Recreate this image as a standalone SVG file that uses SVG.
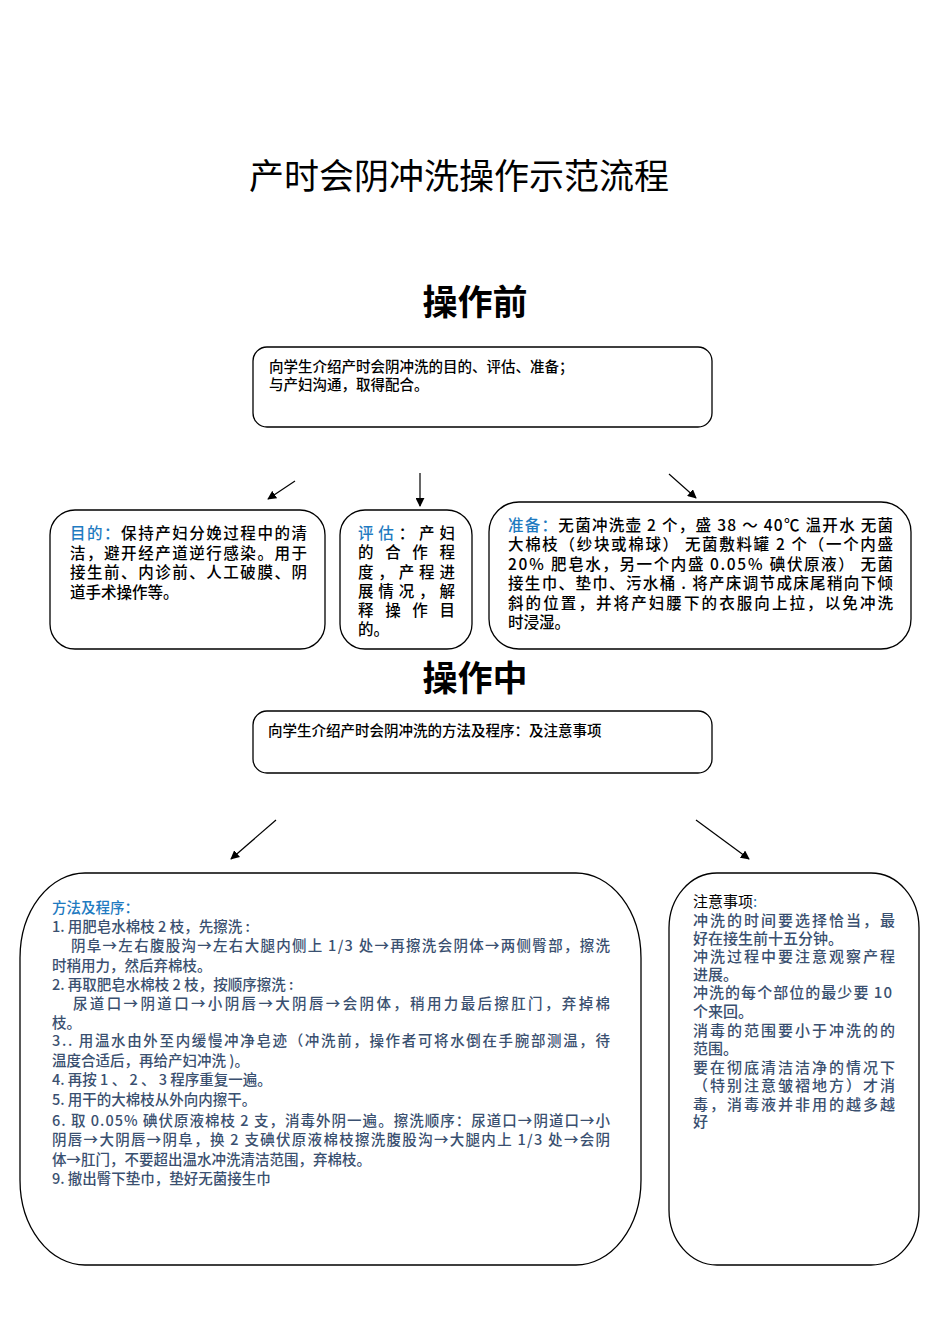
<svg xmlns="http://www.w3.org/2000/svg" width="950" height="1344" viewBox="0 0 950 1344">
<style>
.box{fill:#ffffff;stroke:#000000;stroke-width:1.3}
.t{font-family:"Noto Sans CJK SC","Liberation Sans",sans-serif;fill:#000000;font-weight:500}
.h{font-family:"Noto Sans CJK SC","Liberation Sans",sans-serif;fill:#000000;text-anchor:middle}
.s{font-size:14.5px}
.b{font-size:15.5px}
.m{font-size:14.5px;fill:#3a5070}
.n{font-size:15px;fill:#3a5070}
.blue{fill:#1f7bc1}
.conn{stroke:#000000;stroke-width:1.2;fill:none;marker-end:url(#ah)}
</style>
<defs>
<marker id="ah" viewBox="0 0 10 10" refX="9" refY="5" markerWidth="9" markerHeight="9" markerUnits="userSpaceOnUse" orient="auto">
<path d="M0,0 L10,5 L0,10 z" fill="#000000"/>
</marker>
</defs>
<rect width="950" height="1344" fill="#ffffff"/>

<g id="title">
<text class="h" x="459" y="189" font-size="35">产时会阴冲洗操作示范流程</text>
</g>
<g id="heading-before">
<text class="h" x="475" y="315" font-size="35" font-weight="bold">操作前</text>
</g>

<g id="node-intro">
<rect class="box" x="253" y="347" width="459" height="80" rx="14" ry="14"/>
<text class="t s" x="269" y="372">向学生介绍产时会阴冲洗的目的、评估、准备；</text>
<text class="t s" x="269" y="390">与产妇沟通，取得配合。</text>
</g>

<g id="node-purpose">
<rect class="box" x="50" y="510" width="275" height="139" rx="25" ry="25"/>
<text class="t b" x="70" y="539" textLength="237" lengthAdjust="spacing"><tspan class="blue">目的：</tspan>保持产妇分娩过程中的清</text>
<text class="t b" x="70" y="559" textLength="237" lengthAdjust="spacing">洁，避开经产道逆行感染。用于</text>
<text class="t b" x="70" y="578" textLength="237" lengthAdjust="spacing">接生前、内诊前、人工破膜、阴</text>
<text class="t b" x="70" y="598">道手术操作等。</text>
</g>

<g id="node-assess">
<rect class="box" x="340" y="510" width="132" height="139" rx="25" ry="25"/>
<text class="t b" x="358" y="539" textLength="97" lengthAdjust="spacing"><tspan class="blue">评估</tspan>：产妇</text>
<text class="t b" x="358" y="558" textLength="97" lengthAdjust="spacing">的合作程</text>
<text class="t b" x="358" y="578" textLength="97" lengthAdjust="spacing">度，产程进</text>
<text class="t b" x="358" y="597" textLength="97" lengthAdjust="spacing">展情况，解</text>
<text class="t b" x="358" y="616" textLength="97" lengthAdjust="spacing">释操作目</text>
<text class="t b" x="358" y="635">的。</text>
</g>

<g id="node-prepare">
<rect class="box" x="489" y="502" width="422" height="147" rx="30" ry="30"/>
<text class="t b" x="508" y="531" textLength="385" lengthAdjust="spacing"><tspan class="blue">准备：</tspan>无菌冲洗壶 2 个，盛 38 ～ 40℃ 温开水  无菌</text>
<text class="t b" x="508" y="550" textLength="385" lengthAdjust="spacing">大棉枝（纱块或棉球）  无菌敷料罐 2 个（一个内盛</text>
<text class="t b" x="508" y="570" textLength="385" lengthAdjust="spacing">20％ 肥皂水，另一个内盛 0.05％ 碘伏原液）  无菌</text>
<text class="t b" x="508" y="589" textLength="385" lengthAdjust="spacing">接生巾、垫巾、污水桶 . 将产床调节成床尾稍向下倾</text>
<text class="t b" x="508" y="609" textLength="385" lengthAdjust="spacing">斜的位置，并将产妇腰下的衣服向上拉，以免冲洗</text>
<text class="t b" x="508" y="628">时浸湿。</text>
</g>

<g id="heading-during">
<text class="h" x="475" y="691" font-size="35" font-weight="bold">操作中</text>
</g>

<g id="node-intro2">
<rect class="box" x="253" y="711" width="459" height="62" rx="14" ry="14"/>
<text class="t s" x="268" y="736">向学生介绍产时会阴冲洗的方法及程序：及注意事项</text>
</g>

<g id="node-method">
<rect class="box" x="20" y="873" width="621" height="392" rx="65" ry="85"/>
<text class="t m blue" x="52" y="913">方法及程序：</text>
<text class="t m" x="52" y="932">1. 用肥皂水棉枝 2 枝，先擦洗 :</text>
<text class="t m" x="71" y="951" textLength="539" lengthAdjust="spacing">阴阜→左右腹股沟→左右大腿内侧上 1/3 处→再擦洗会阴体→两侧臀部，擦洗</text>
<text class="t m" x="52" y="971">时稍用力，然后弃棉枝。</text>
<text class="t m" x="52" y="990">2. 再取肥皂水棉枝 2 枝，按顺序擦洗 :</text>
<text class="t m" x="73" y="1009" textLength="537" lengthAdjust="spacing">尿道口→阴道口→小阴唇→大阴唇→会阴体，稍用力最后擦肛门，弃掉棉</text>
<text class="t m" x="52" y="1028">枝。</text>
<text class="t m" x="52" y="1046" textLength="558" lengthAdjust="spacing">3.. 用温水由外至内缓慢冲净皂迹（冲洗前，操作者可将水倒在手腕部测温，待</text>
<text class="t m" x="52" y="1066">温度合适后，再给产妇冲洗 )。</text>
<text class="t m" x="52" y="1085">4. 再按 1 、 2 、 3 程序重复一遍。</text>
<text class="t m" x="52" y="1105">5. 用干的大棉枝从外向内擦干。</text>
<text class="t m" x="52" y="1126" textLength="558" lengthAdjust="spacing">6. 取 0.05% 碘伏原液棉枝 2 支，消毒外阴一遍。擦洗顺序：尿道口→阴道口→小</text>
<text class="t m" x="52" y="1145" textLength="558" lengthAdjust="spacing">阴唇→大阴唇→阴阜，换 2 支碘伏原液棉枝擦洗腹股沟→大腿内上 1/3 处→会阴</text>
<text class="t m" x="52" y="1165">体→肛门，不要超出温水冲洗清洁范围，弃棉枝。</text>
<text class="t m" x="52" y="1184">9. 撤出臀下垫巾，垫好无菌接生巾</text>
</g>

<g id="node-notes">
<rect class="box" x="669" y="873" width="250" height="392" rx="48" ry="55"/>
<text class="t" x="693" y="907" font-size="15" fill="#333333" style="font-weight:400">注意事项<tspan class="blue">:</tspan></text>
<text class="t n" x="693" y="926" textLength="202" lengthAdjust="spacing">冲洗的时间要选择恰当，最</text>
<text class="t n" x="693" y="944">好在接生前十五分钟。</text>
<text class="t n" x="693" y="962" textLength="202" lengthAdjust="spacing">冲洗过程中要注意观察产程</text>
<text class="t n" x="693" y="980">进展。</text>
<text class="t n" x="693" y="998" textLength="199" lengthAdjust="spacing">冲洗的每个部位的最少要 10</text>
<text class="t n" x="693" y="1017">个来回。</text>
<text class="t n" x="693" y="1036" textLength="202" lengthAdjust="spacing">消毒的范围要小于冲洗的的</text>
<text class="t n" x="693" y="1054">范围。</text>
<text class="t n" x="693" y="1073" textLength="202" lengthAdjust="spacing">要在彻底清洁洁净的情况下</text>
<text class="t n" x="693" y="1091" textLength="202" lengthAdjust="spacing">（特别注意皱褶地方）才消</text>
<text class="t n" x="693" y="1110" textLength="202" lengthAdjust="spacing">毒，消毒液并非用的越多越</text>
<text class="t n" x="693" y="1127">好</text>
</g>

<g id="connectors">
<line class="conn" x1="295" y1="481" x2="268" y2="499"/>
<line class="conn" x1="420" y1="473" x2="420" y2="506"/>
<line class="conn" x1="669" y1="474" x2="696" y2="498"/>
<line class="conn" x1="276" y1="820" x2="231" y2="859"/>
<line class="conn" x1="696" y1="820" x2="749" y2="859"/>
</g>
</svg>
